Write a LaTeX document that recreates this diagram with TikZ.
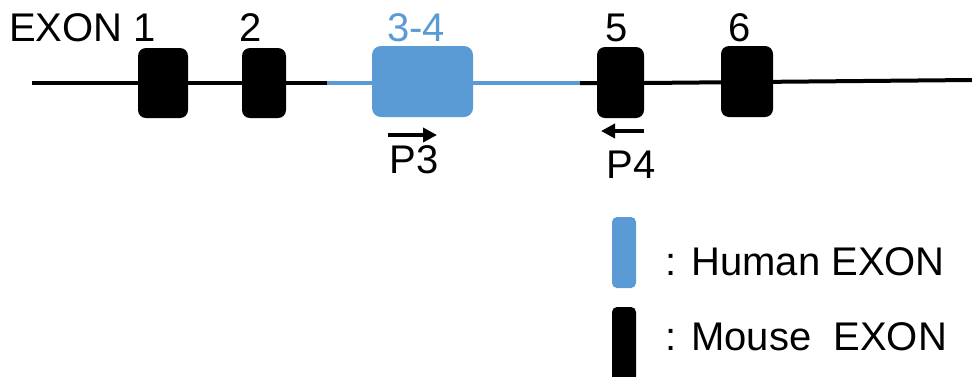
\documentclass[tikz,border=0pt]{standalone}
\usepackage{fontspec}
\setmainfont{Liberation Sans}
\usetikzlibrary{arrows.meta}
\definecolor{hblue}{HTML}{5B9BD5}
\begin{document}
\begin{tikzpicture}[x=1pt,y=-1pt,
  mexon/.style={fill=black,draw=none,rounded corners=8pt},
  hexon/.style={fill=hblue,draw=none,rounded corners=9pt},
  lbl/.style={inner sep=0pt,font=\fontsize{40}{44}\selectfont},
  primer/.style={line width=4.5pt,-{Triangle[length=14pt,width=14pt]}}]
\useasboundingbox (0,0) rectangle (972,376);
% backbone
\coordinate (L0) at (32,83);
\coordinate (B0) at (327,83);
\coordinate (B1) at (580,83);
\coordinate (R0) at (972,80);
\draw[line width=4pt] (L0) -- (B0);
\draw[line width=4pt,hblue] (B0) -- (B1);
\draw[line width=4pt] (B1) -- (644,83) -- (R0);
% exons
\path[mexon] (138,48) rectangle (188,118);
\node[inner sep=0pt] (e1) at (163,83) {};
\path[mexon] (242,48) rectangle (286,118);
\node[inner sep=0pt] (e2) at (264,83) {};
\path[hexon] (372,46) rectangle (473,117);
\node[inner sep=0pt] (e34) at (422,83) {};
\path[mexon] (597,47) rectangle (644,118);
\node[inner sep=0pt] (e5) at (620,83) {};
\path[mexon] (721,46) rectangle (773,117);
\node[inner sep=0pt] (e6) at (747,83) {};
% labels
\node[lbl,anchor=base west] (t1) at (9,41) {EXON 1};
\node[lbl,anchor=base] (t2) at (251,41) {2};
\node[lbl,anchor=base,text=hblue] (t34) at (416,41) {3-4};
\node[lbl,anchor=base] (t5) at (617,41) {5};
\node[lbl,anchor=base] (t6) at (740,41) {6};
% primers
\coordinate (p3a) at (388,135);
\coordinate (p3b) at (437,135);
\draw[primer] (p3a) -- (p3b);
\node[lbl,anchor=base] (p3) at (414,173) {P3};
\coordinate (p4a) at (644,131);
\coordinate (p4b) at (601,131);
\draw[primer] (p4a) -- (p4b);
\node[lbl,anchor=base] (p4) at (631,178) {P4};
% legend
\path[hexon,rounded corners=5pt] (612,217) rectangle (636,288);
\node[inner sep=0pt] (lh) at (624,252) {};
\path[mexon,rounded corners=5pt] (612,307) rectangle (636,390);
\node[inner sep=0pt] (lm) at (624,340) {};
\node[lbl,anchor=base west] (th) at (665,275) {:\hspace{15pt}Human EXON};
\node[lbl,anchor=base west] (tm) at (665,350) {:\hspace{15pt}Mouse\ \ EXON};
\end{tikzpicture}
\end{document}
